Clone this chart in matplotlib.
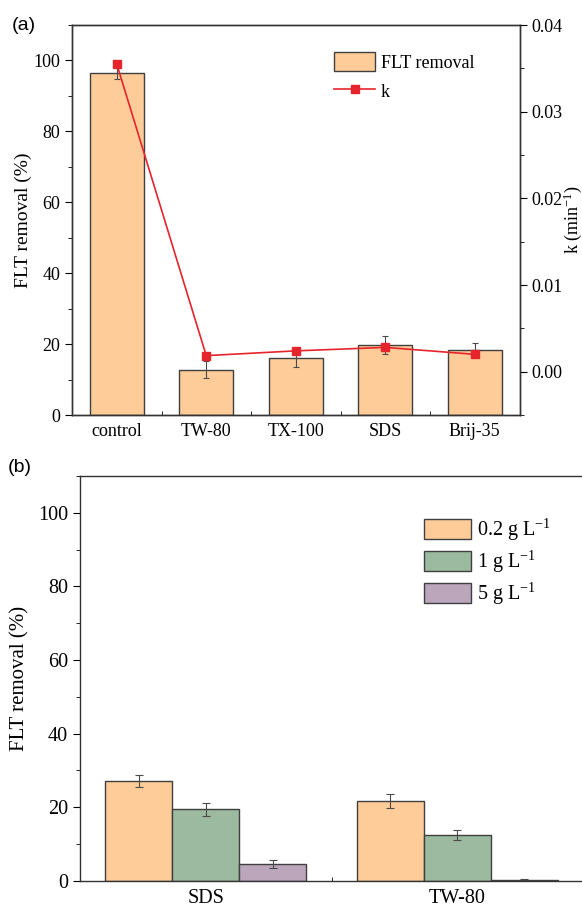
import matplotlib
matplotlib.use("Agg")
import matplotlib.pyplot as plt
from matplotlib.ticker import MultipleLocator, FixedLocator, FormatStrFormatter
from matplotlib.patches import Patch
from matplotlib.lines import Line2D
import numpy as np

plt.rcParams['font.family'] = ['Liberation Serif', 'DejaVu Serif']
plt.rcParams['mathtext.fontset'] = 'custom'
plt.rcParams['mathtext.rm'] = 'Liberation Serif'
plt.rcParams['mathtext.it'] = 'Liberation Serif:italic'

# --- panel (a) data ---
surfactants = ['control', 'TW-80', 'TX-100', 'SDS', 'Brij-35']
removal_a = [96.5, 12.8, 16.2, 19.7, 18.4]
removal_a_err = [1.7, 2.4, 2.7, 2.6, 1.9]
k_values = [0.0355, 0.00185, 0.0024, 0.0028, 0.0020]

# --- panel (b) data ---
groups_b = ['SDS', 'TW-80']
dose_labels = [r'0.2 g L$^{-1}$', r'1 g L$^{-1}$', r'5 g L$^{-1}$']
removal_b = [[27.2, 21.7], [19.4, 12.3], [4.5, 0.2]]
removal_b_err = [[1.6, 1.9], [1.7, 1.35], [1.1, 0.3]]

c_orange = '#FDCC99'
c_green = '#9CBAA0'
c_purple = '#BBA6BB'
dose_colors = [c_orange, c_green, c_purple]
edge = '#3f3f3f'
err_c = '#4a4a4a'
red = '#E5242B'

W, H = 582, 908
fig = plt.figure(figsize=(W / 100, H / 100), dpi=100)


def px_axes(l, t, r, b):
    return fig.add_axes([l / W, 1 - b / H, (r - l) / W, (b - t) / H])


def style_spines(ax):
    for s in ax.spines.values():
        s.set_linewidth(1.0)
        s.set_color('#333333')


# ---------------- (a) ----------------
ax = px_axes(72, 25, 519.5, 415)
x = np.arange(len(surfactants))
ax.bar(x, removal_a, width=0.6, color=c_orange, edgecolor=edge, linewidth=1.0,
       yerr=removal_a_err, error_kw=dict(ecolor=err_c, elinewidth=0.8, capsize=2.5, capthick=0.8),
       zorder=2)
ax.set_xlim(-0.5, len(surfactants) - 0.5)
ax.set_ylim(0, 110)
ax.set_xticks(x)
ax.set_xticklabels(surfactants)
ax.xaxis.set_minor_locator(FixedLocator(x[:-1] + 0.5))
ax.set_yticks([0, 20, 40, 60, 80, 100])
ax.yaxis.set_minor_locator(MultipleLocator(10))
ax.tick_params(axis='x', which='both', direction='in', labelsize=13, pad=6)
ax.tick_params(axis='x', which='major', length=5)
ax.tick_params(axis='x', which='minor', length=3)
ax.tick_params(axis='y', which='both', direction='out', labelsize=13)
ax.tick_params(axis='y', which='major', length=5)
ax.tick_params(axis='y', which='minor', length=3)
ax.set_ylabel('FLT removal (%)', fontsize=14, labelpad=1)
style_spines(ax)

ax2 = ax.twinx()
ax2.plot(x, k_values, color=red, linewidth=1.2, marker='s', markersize=5.5,
         markerfacecolor=red, markeredgecolor=red, zorder=5)
ax2.set_ylim(-0.005, 0.04)
ax2.set_yticks([0.0, 0.01, 0.02, 0.03, 0.04])
ax2.yaxis.set_major_formatter(FormatStrFormatter('%.2f'))
ax2.yaxis.set_minor_locator(MultipleLocator(0.005))
ax2.tick_params(axis='y', which='both', direction='out', labelsize=13)
ax2.tick_params(axis='y', which='major', length=5)
ax2.tick_params(axis='y', which='minor', length=3)
ax2.set_ylabel(r'k (min$^{-1}$)', fontsize=13, labelpad=-1)
style_spines(ax2)

handles_a = [Patch(facecolor=c_orange, edgecolor=edge, linewidth=1.0),
             Line2D([], [], color=red, linewidth=1.2, marker='s', markersize=5.5)]
ax2.legend(handles_a, ['FLT removal', 'k'], loc='upper left',
           bbox_to_anchor=(0.585, 0.93), frameon=False, fontsize=13,
           handlelength=2.3, handleheight=1.2, labelspacing=0.55,
           handletextpad=0.3, borderpad=0, borderaxespad=0)

fig.text(12 / W, 1 - 25 / H, '(a)', family=['Liberation Sans', 'DejaVu Sans'],
         fontsize=14, va='center', ha='left')

# ---------------- (b) ----------------
bx = px_axes(80, 476, 583, 880.7)
xb = np.arange(1, len(groups_b) + 1)
bw = 0.266
for i, (vals, errs) in enumerate(zip(removal_b, removal_b_err)):
    bx.bar(xb + (i - 1) * bw, vals, width=bw, color=dose_colors[i], edgecolor=edge,
           linewidth=1.0, yerr=errs, label=dose_labels[i],
           error_kw=dict(ecolor=err_c, elinewidth=0.8, capsize=3, capthick=0.8), zorder=2)
bx.set_xlim(0.5, len(groups_b) + 0.5)
bx.set_ylim(0, 110)
bx.set_xticks(xb)
bx.set_xticklabels(groups_b)
bx.xaxis.set_minor_locator(FixedLocator(xb[:-1] + 0.5))
bx.set_yticks([0, 20, 40, 60, 80, 100])
bx.yaxis.set_minor_locator(MultipleLocator(10))
bx.tick_params(axis='x', which='both', direction='in', labelsize=14.5, pad=6)
bx.tick_params(axis='x', which='major', length=6)
bx.tick_params(axis='x', which='minor', length=3)
bx.tick_params(axis='y', which='both', direction='out', labelsize=14.5)
bx.tick_params(axis='y', which='major', length=5)
bx.tick_params(axis='y', which='minor', length=3)
bx.set_ylabel('FLT removal (%)', fontsize=15, labelpad=6)
style_spines(bx)
bx.legend(loc='upper left', bbox_to_anchor=(0.684, 0.9), frameon=False, fontsize=14.5,
          handlelength=2.35, handleheight=1.15, labelspacing=0.3,
          handletextpad=0.3, borderpad=0, borderaxespad=0)

fig.text(8 / W, 1 - 468 / H, '(b)', family=['Liberation Sans', 'DejaVu Sans'],
         fontsize=14, va='center', ha='left')

fig.savefig('out.png', dpi=100)
